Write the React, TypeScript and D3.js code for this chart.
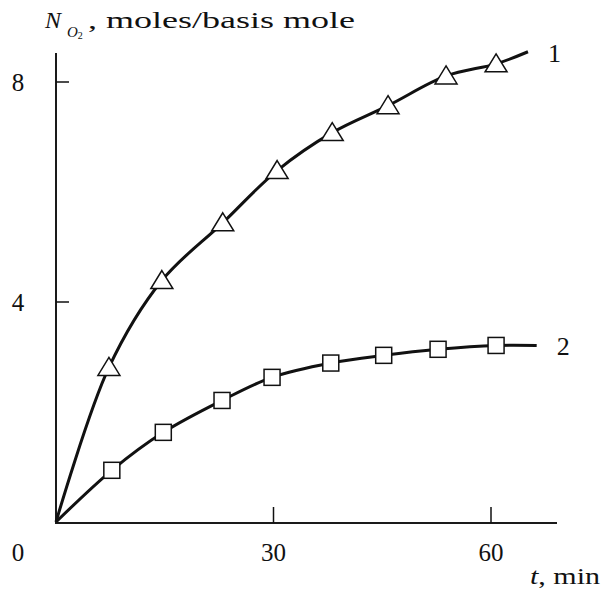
import React from 'react';
import * as d3 from 'd3';

// curve 1 (triangles) and curve 2 (squares), time in min, N_O2 in moles/basis mole
const tTriangles = [7.3, 14.6, 23, 30.5, 38.1, 45.8, 53.8, 60.7];
const nTriangles = [2.81, 4.39, 5.44, 6.39, 7.08, 7.57, 8.11, 8.33];
const tSquares = [7.7, 14.8, 22.9, 29.8, 37.9, 45.2, 52.7, 60.7];
const nSquares = [0.94, 1.63, 2.21, 2.63, 2.89, 3.03, 3.14, 3.21];
// where each drawn curve ends
const curveEnds = [
    [65.1, 8.55],
    [66.3, 3.21],
];
const xTicks = [30, 60];
const yTicks = [4, 8];
const curveLabels = ['1', '2'];

const width = 605;
const height = 590;
const font = "'Liberation Serif', 'Times New Roman', 'Nimbus Roman', Times, serif";

const App = () => {
    const x = d3.scaleLinear().domain([0, 60]).range([56, 491]);
    const y = d3.scaleLinear().domain([0, 8]).range([522, 82]);

    const line = d3
        .line<number[]>()
        .x(d => x(d[0]))
        .y(d => y(d[1]))
        .curve(d3.curveCatmullRom.alpha(0.5));

    const pts1 = [[0, 0], ...tTriangles.map((t, i) => [t, nTriangles[i]]), curveEnds[0]];
    const pts2 = [[0, 0], ...tSquares.map((t, i) => [t, nSquares[i]]), curveEnds[1]];

    const tri = 'M0,-10L11,8L-11,8Z';

    return (
        <svg
            width={width}
            height={height}
            style={{ position: 'absolute', left: 0, top: 0, background: '#fff', fontFamily: font }}
        >
            {/* axes */}
            <line x1={x(0)} x2={x(0)} y1={53} y2={y(0) + 1} stroke="#1a1a1a" strokeWidth={2} />
            <line x1={x(0) - 1} x2={557} y1={y(0) + 1} y2={y(0) + 1} stroke="#1a1a1a" strokeWidth={2} />
            {yTicks.map(v => (
                <g key={v}>
                    <line x1={x(0)} x2={x(0) + 13} y1={y(v)} y2={y(v)} stroke="#111" strokeWidth={1.5} />
                    <text x={18} y={y(v) + 9} fontSize={25} textAnchor="middle" fill="#111">
                        {v}
                    </text>
                </g>
            ))}
            {xTicks.map(v => (
                <g key={v}>
                    <line x1={x(v)} x2={x(v)} y1={y(0) + 1} y2={y(0) - 15} stroke="#111" strokeWidth={1.5} />
                    <text x={x(v)} y={561} fontSize={25} textAnchor="middle" fill="#111">
                        {v}
                    </text>
                </g>
            ))}
            <text x={18} y={561} fontSize={25} textAnchor="middle" fill="#111">
                0
            </text>

            {/* axis titles */}
            <text x={45} y={28} fontSize={24} fontStyle="italic" fill="#111">
                N
            </text>
            <text x={67} y={37} fontSize={15} fontStyle="italic" fill="#111">
                O
                <tspan fontStyle="normal" fontSize={10} dy={2}>
                    2
                </tspan>
            </text>
            <text x={88} y={28} fontSize={24} fill="#111" textLength={267} lengthAdjust="spacingAndGlyphs">
                , moles/basis mole
            </text>
            <text x={530} y={584} fontSize={24} fill="#111" textLength={70} lengthAdjust="spacingAndGlyphs">
                <tspan fontStyle="italic">t</tspan>, min
            </text>

            {/* curves */}
            <path d={line(pts1) ?? ''} fill="none" stroke="#111" strokeWidth={3} />
            <path d={line(pts2) ?? ''} fill="none" stroke="#111" strokeWidth={3} />

            {/* markers */}
            {tTriangles.map((t, i) => (
                <path
                    key={`t${i}`}
                    d={tri}
                    transform={`translate(${x(t)},${y(nTriangles[i])})`}
                    fill="#fff"
                    stroke="#111"
                    strokeWidth={1.5}
                />
            ))}
            {tSquares.map((t, i) => (
                <rect
                    key={`s${i}`}
                    x={x(t) - 8}
                    y={y(nSquares[i]) - 8}
                    width={16}
                    height={16}
                    fill="#fff"
                    stroke="#111"
                    strokeWidth={1.5}
                />
            ))}

            {/* curve numbers */}
            {curveEnds.map((e, i) => (
                <text key={i} x={x(e[0]) + 20} y={y(e[1]) + 10} fontSize={26} fill="#111">
                    {curveLabels[i]}
                </text>
            ))}
        </svg>
    );
};

export default App;
